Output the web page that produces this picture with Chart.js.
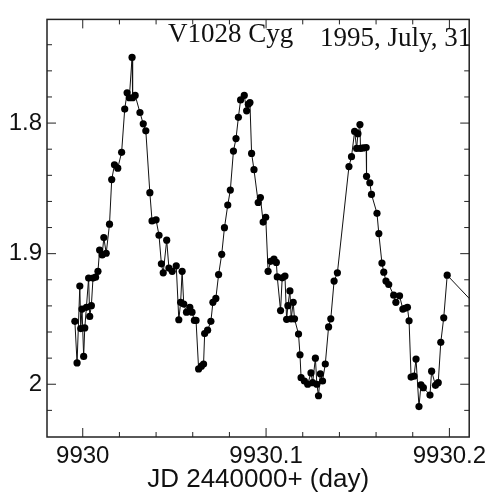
<!DOCTYPE html>
<html>
<head>
<meta charset="utf-8">
<script src="https://cdn.jsdelivr.net/npm/chart.js@4.4.0/dist/chart.umd.min.js"></script>
<style>
  html, body { margin: 0; padding: 0; background: #fff; }
  #wrap { width: 492px; height: 500px; }
</style>
</head>
<body>
<div id="wrap"><canvas id="chart" width="492" height="500"></canvas></div>
<script>
// Julian date (JD 2440000+) and magnitude
const jd = [
  9929.9957, 9929.9969, 9929.9984, 9929.9989, 9929.9996, 9930.0005, 9930.0011, 9930.0020,
  9930.0032, 9930.0038, 9930.0047, 9930.0056, 9930.0070, 9930.0083, 9930.0092, 9930.0106,
  9930.0115, 9930.0128, 9930.0146, 9930.0158, 9930.0173, 9930.0191, 9930.0212, 9930.0229,
  9930.0242, 9930.0254, 9930.0269, 9930.0272, 9930.0286, 9930.0312, 9930.0330, 9930.0344,
  9930.0366, 9930.0378, 9930.0400, 9930.0416, 9930.0429, 9930.0439, 9930.0458, 9930.0470,
  9930.0488, 9930.0510, 9930.0524, 9930.0534, 9930.0542, 9930.0551, 9930.0566, 9930.0584,
  9930.0596, 9930.0609, 9930.0618, 9930.0632, 9930.0647, 9930.0659, 9930.0665, 9930.0681,
  9930.0699, 9930.0710, 9930.0726, 9930.0741, 9930.0758, 9930.0773, 9930.0791, 9930.0805,
  9930.0822, 9930.0836, 9930.0849, 9930.0861, 9930.0881, 9930.0894, 9930.0903, 9930.0912,
  9930.0921, 9930.0934, 9930.0957, 9930.0969, 9930.0984, 9930.0998, 9930.1011, 9930.1025,
  9930.1043, 9930.1056, 9930.1061, 9930.1079, 9930.1088, 9930.1103, 9930.1112, 9930.1119,
  9930.1130, 9930.1137, 9930.1148, 9930.1155, 9930.1177, 9930.1185, 9930.1191, 9930.1209,
  9930.1227, 9930.1245, 9930.1254, 9930.1269, 9930.1277, 9930.1286, 9930.1296, 9930.1308,
  9930.1323, 9930.1341, 9930.1353, 9930.1371, 9930.1389, 9930.1452, 9930.1466, 9930.1483,
  9930.1494, 9930.1501, 9930.1512, 9930.1515, 9930.1530, 9930.1546, 9930.1548, 9930.1566,
  9930.1575, 9930.1605, 9930.1615, 9930.1632, 9930.1642, 9930.1654, 9930.1669, 9930.1696,
  9930.1708, 9930.1728, 9930.1746, 9930.1758, 9930.1771, 9930.1780, 9930.1791, 9930.1807,
  9930.1818, 9930.1834, 9930.1845, 9930.1858, 9930.1894, 9930.1903, 9930.1924, 9930.1939,
  9930.1953, 9930.1969, 9930.1988, 9930.2146
];
const mag = [
  1.9518, 1.9837, 1.9248, 1.9574, 1.9424, 1.9787, 1.9569, 1.9411,
  1.9187, 1.9481, 1.9398, 1.9187, 1.9180, 1.9135, 1.8972, 1.9010,
  1.8877, 1.8997, 1.8774, 1.8433, 1.8320, 1.8345, 1.8224, 1.7893,
  1.7768, 1.7806, 1.7497, 1.7806, 1.7788, 1.7919, 1.8006, 1.8059,
  1.8533, 1.8749, 1.8741, 1.8859, 1.9078, 1.9147, 1.8897, 1.9110,
  1.9135, 1.9093, 1.9506, 1.9373, 1.9135, 1.9386, 1.9448, 1.9411,
  1.9448, 1.9511, 1.9511, 1.9883, 1.9862, 1.9845, 1.9612, 1.9586,
  1.9518, 1.9373, 1.9343, 1.9160, 1.9005, 1.8801, 1.8628, 1.8513,
  1.8214, 1.8119, 1.7956, 1.7823, 1.7788, 1.7906, 1.7856, 1.7843,
  1.8232, 1.8357, 1.8608, 1.8570, 1.8758, 1.8721, 1.9135, 1.9059,
  1.9042, 1.9067, 1.9178, 1.9436, 1.9185, 1.9172, 1.9503, 1.9398,
  1.9285, 1.9499, 1.9373, 1.9499, 1.9616, 1.9774, 1.9950, 1.9975,
  2.0000, 1.9913, 1.9988, 1.9800, 2.0000, 2.0088, 1.9920, 1.9975,
  1.9845, 1.9561, 1.9499, 1.9210, 1.9147, 1.8333, 1.8257, 1.8064,
  1.8194, 1.8081, 1.8011, 1.8194, 1.8190, 1.8187, 1.8408, 1.8457,
  1.8546, 1.8691, 1.8846, 1.9072, 1.9142, 1.9210, 1.9236, 1.9318,
  1.9373, 1.9323, 1.9424, 1.9418, 1.9411, 1.9514, 1.9945, 1.9938,
  1.9807, 2.0171, 2.0005, 2.0026, 2.0083, 1.9900, 2.0008, 1.9988,
  1.9679, 1.9491, 1.9165, 1.9399
];

// ticks: marks every 0.02, labels every 0.1
const xTicks = [9930.00, 9930.02, 9930.04, 9930.06, 9930.08, 9930.10, 9930.12, 9930.14, 9930.16, 9930.18, 9930.20];
const yTicks = [1.74, 1.76, 1.78, 1.80, 1.82, 1.84, 1.86, 1.88, 1.90, 1.92, 1.94, 1.96, 1.98, 2.00, 2.02];
const xLabels = [9930, 9930.1, 9930.2];
const yLabels = [1.8, 1.9, 2];

const starName = "V1028 Cyg";
const obsDate = "1995, July, 31";

const isLabel = (v, list) => list.some(l => Math.abs(l - v) < 1e-6);

Chart.defaults.font.family = '"Liberation Sans", Arial, sans-serif';
Chart.defaults.color = '#111';

// frame with inward ticks on all four sides, plus the header text
const framePlugin = {
  id: 'frame',
  afterDraw(chart) {
    const { ctx, chartArea: a, scales } = chart;
    ctx.save();
    ctx.strokeStyle = '#222';
    ctx.lineWidth = 1.5;
    ctx.strokeRect(a.left, a.top, a.right - a.left, a.bottom - a.top);
    ctx.lineWidth = 1;
    xTicks.forEach(v => {
      const px = scales.x.getPixelForValue(v);
      const len = isLabel(v, xLabels) ? 9 : 5;
      ctx.beginPath();
      ctx.moveTo(px, a.bottom); ctx.lineTo(px, a.bottom - len);
      ctx.moveTo(px, a.top); ctx.lineTo(px, a.top + len);
      ctx.stroke();
    });
    yTicks.forEach(v => {
      const py = scales.y.getPixelForValue(v);
      const len = isLabel(v, yLabels) ? 9 : 5;
      ctx.beginPath();
      ctx.moveTo(a.left, py); ctx.lineTo(a.left + len, py);
      ctx.moveTo(a.right, py); ctx.lineTo(a.right - len, py);
      ctx.stroke();
    });
    ctx.fillStyle = '#111';
    ctx.font = '27px "Liberation Serif", "Times New Roman", serif';
    ctx.textBaseline = 'alphabetic';
    ctx.textAlign = 'left';
    ctx.fillText(starName, 168, 42);
    ctx.fillText(obsDate, 320, 46);
    ctx.restore();
  }
};

new Chart(document.getElementById('chart'), {
  type: 'line',
  data: {
    datasets: [{
      data: jd.map((x, i) => ({ x, y: mag[i] })),
      borderColor: '#111',
      borderWidth: 1,
      pointRadius: 3.6,
      pointBackgroundColor: '#000',
      pointBorderColor: '#000',
      pointBorderWidth: 0,
      tension: 0
    }]
  },
  options: {
    responsive: false,
    animation: false,
    layout: { padding: { top: 12, right: 19, left: 0, bottom: 0 } },
    plugins: { legend: { display: false }, tooltip: { enabled: false } },
    scales: {
      x: {
        type: 'linear',
        min: 9929.9805,
        max: 9930.2108,
        grid: { display: false, drawTicks: false },
        border: { display: false },
        afterBuildTicks: s => { s.ticks = xTicks.map(v => ({ value: v })); },
        afterFit: s => { s.height = 63; },
        ticks: {
          autoSkip: false,
          maxRotation: 0,
          padding: 5,
          font: { size: 24 },
          callback: v => isLabel(v, xLabels) ? String(Math.round(v * 10) / 10) : ''
        },
        title: {
          display: true,
          text: 'JD 2440000+ (day)',
          font: { size: 26 },
          padding: { top: 0, bottom: 5 }
        }
      },
      y: {
        reverse: true,
        min: 1.7206,
        max: 2.0404,
        grid: { display: false, drawTicks: false },
        border: { display: false },
        afterBuildTicks: s => { s.ticks = yTicks.map(v => ({ value: v })); },
        afterFit: s => { s.width = 47; },
        ticks: {
          autoSkip: false,
          padding: 5,
          font: { size: 24 },
          callback: v => isLabel(v, yLabels) ? String(Math.round(v * 10) / 10) : ''
        }
      }
    }
  },
  plugins: [framePlugin]
});
</script>
</body>
</html>
